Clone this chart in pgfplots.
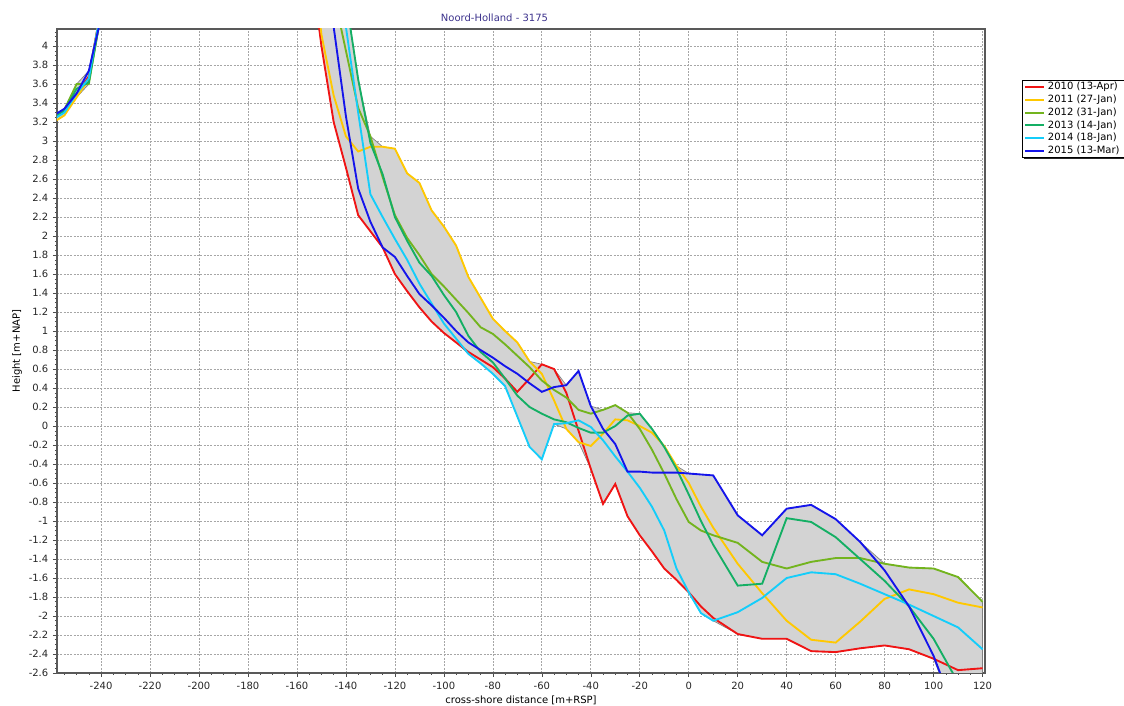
\documentclass[border=0pt]{standalone}
\usepackage{pgfplots}
\pgfplotsset{compat=1.18}
\usepackage{pgfplotstable}
\usepackage{fontspec}
\setmainfont{DejaVu Sans}

\definecolor{c2010}{RGB}{240,20,20}
\definecolor{c2011}{RGB}{255,200,0}
\definecolor{c2012}{RGB}{115,180,30}
\definecolor{c2013}{RGB}{20,175,100}
\definecolor{c2014}{RGB}{20,205,250}
\definecolor{c2015}{RGB}{20,20,235}
\definecolor{envfill}{RGB}{211,211,211}
\definecolor{titleblue}{RGB}{60,50,140}

% profiles per survey year (height in m+NAP)
\pgfplotstableread{
x     r      y      o      g      c      b
-260  3.24   3.19   3.24   3.24   3.22   3.26
-255  3.33   3.27   3.33   3.32   3.30   3.34
-250  3.50   3.46   3.60   3.55   3.50   3.50
-245  3.68   3.65   3.60   3.62   3.66   3.74
-240  4.40   4.40   4.35   4.35   4.40   4.30
-235  6.00   6.00   6.00   6.00   6.00   6.00
-160  6.00   6.00   6.00   6.00   6.00   6.00
-155  5.00   5.30   6.00   6.00   6.00   6.00
-150  4.00   4.12   5.20   5.60   5.40   4.90
-145  3.20   3.48   4.55   5.00   4.80   4.20
-140  2.72   3.05   3.95   4.50   4.20   3.26
-135  2.22   2.89   3.35   3.65   3.30   2.50
-130  2.05   2.94   3.05   2.98   2.44   2.15
-125  1.88   2.94   2.62   2.65   2.20   1.88
-120  1.60   2.92   2.22   2.20   1.97   1.78
-115  1.42   2.66   1.98   1.95   1.75   1.58
-110  1.25   2.56   1.80   1.72   1.50   1.39
-105  1.10   2.27   1.60   1.58   1.29   1.27
-100  0.98   2.10   1.47   1.38   1.08   1.14
-95   0.88   1.90   1.33   1.20   0.92   1.00
-90   0.78   1.57   1.19   0.95   0.76   0.88
-85   0.70   1.35   1.04   0.78   0.66   0.80
-80   0.62   1.13   0.97   0.67   0.55   0.72
-75   0.50   1.00   0.86   0.50   0.42   0.63
-70   0.36   0.88   0.74   0.32   0.10   0.55
-65   0.50   0.68   0.62   0.20  -0.22   0.45
-60   0.65   0.55   0.48   0.13  -0.35   0.36
-55   0.60   0.27   0.38   0.07   0.02   0.41
-50   0.35  -0.03   0.30   0.04   0.03   0.43
-45  -0.05  -0.17   0.17  -0.02   0.06   0.58
-40  -0.45  -0.21   0.13  -0.07  -0.01   0.21
-35  -0.82  -0.08   0.17  -0.07  -0.15  -0.03
-30  -0.61   0.07   0.22   0.00  -0.32  -0.19
-25  -0.95   0.06   0.14   0.11  -0.48  -0.48
-20  -1.15   0.00  -0.03   0.13  -0.65  -0.48
-15  -1.32  -0.07  -0.25  -0.03  -0.85  -0.49
-10  -1.50  -0.21  -0.50  -0.22  -1.10  -0.49
-5   -1.62  -0.42  -0.77  -0.45  -1.50  -0.49
0    -1.75  -0.60  -1.01  -0.72  -1.75  -0.50
5    -1.90  -0.85  -1.10  -1.00  -1.97  -0.51
10   -2.02  -1.07  -1.15  -1.25  -2.05  -0.52
20   -2.19  -1.45  -1.23  -1.68  -1.96  -0.94
30   -2.24  -1.76  -1.43  -1.66  -1.81  -1.15
40   -2.24  -2.05  -1.50  -0.97  -1.60  -0.87
50   -2.37  -2.25  -1.43  -1.01  -1.54  -0.83
60   -2.38  -2.28  -1.39  -1.17  -1.56  -0.98
70   -2.34  -2.06  -1.39  -1.40  -1.66  -1.22
80   -2.31  -1.82  -1.45  -1.63  -1.77  -1.52
90   -2.35  -1.72  -1.49  -1.90  -1.88  -1.90
100  -2.45  -1.77  -1.50  -2.24  -2.00  -2.42
110  -2.57  -1.86  -1.59  -2.70  -2.12  -3.10
120  -2.55  -1.91  -1.85  -3.20  -2.35  -3.80
}\profiles

% envelope of all years: upper edge left to right, then lower edge back
\pgfplotstableread{
x     h
-260  3.26
-255  3.34
-250  3.60
-245  3.74
-240  4.40
-235  6.00
-155  6.00
-150  5.60
-145  5.00
-140  4.50
-135  3.65
-130  3.05
-125  2.94
-120  2.92
-115  2.66
-110  2.56
-105  2.27
-100  2.10
-95   1.90
-90   1.57
-85   1.35
-80   1.13
-75   1.00
-70   0.88
-65   0.68
-60   0.65
-55   0.60
-50   0.43
-45   0.58
-40   0.21
-35   0.17
-30   0.22
-25   0.14
-20   0.13
-15  -0.03
-10  -0.21
-5   -0.42
0    -0.50
5    -0.51
10   -0.52
20   -0.94
30   -1.15
40   -0.87
50   -0.83
60   -0.98
70   -1.22
80   -1.45
90   -1.49
100  -1.50
110  -1.59
120  -1.85
120  -3.80
110  -3.10
100  -2.45
90   -2.35
80   -2.31
70   -2.34
60   -2.38
50   -2.37
40   -2.24
30   -2.24
20   -2.19
10   -2.05
5    -1.97
0    -1.75
-5   -1.62
-10  -1.50
-15  -1.32
-20  -1.15
-25  -0.95
-30  -0.61
-35  -0.82
-40  -0.45
-45  -0.17
-50  -0.03
-55   0.02
-60  -0.35
-65  -0.22
-70   0.10
-75   0.42
-80   0.55
-85   0.66
-90   0.76
-95   0.88
-100  0.98
-105  1.10
-110  1.25
-115  1.42
-120  1.60
-125  1.88
-130  2.05
-135  2.22
-140  2.72
-145  3.20
-150  4.00
-155  5.00
-160  6.00
-235  6.00
-240  4.30
-245  3.60
-250  3.46
-255  3.27
-260  3.19
}\envelope

\begin{document}
\begin{tikzpicture}
\path[use as bounding box] (-42.75pt,-24.75pt) rectangle (800.25pt,504.75pt);
\begin{axis}[
    width=696pt, height=483pt, scale only axis,
    clip mode=individual,
    xmin=-258, xmax=121, ymin=-2.6, ymax=4.18,
    xtick distance=20, ytick distance=0.2,
    minor x tick num=3, minor y tick num=3,
    xtick pos=left, ytick pos=left, tick align=outside,
    major tick length=3pt, minor tick length=1.5pt,
    tick style={black!70, line width=0.4pt},
    axis line style={black!65, line width=1.3pt},
    grid=major,
    major grid style={black!35, line width=0.5pt, dash pattern=on 1.5pt off 1pt},
    /pgf/number format/assume math mode=true,
    ticklabel style={font=\fontsize{7.5}{9}\selectfont, text=black!85},
    title={Noord-Holland - 3175},
    title style={at={(axis description cs:0.4714,1.0186)}, anchor=center,
        yshift=-6.75pt, font=\fontsize{7.5}{9}\selectfont, text=titleblue},
    xlabel={cross-shore distance [m+RSP]},
    xlabel style={at={(axis description cs:0.5,-0.042)}, anchor=center,
        font=\fontsize{7.5}{9}\selectfont},
    ylabel={Height [m+NAP]},
    ylabel style={at={(axis description cs:-0.0431,0.5)}, anchor=center,
        font=\fontsize{7.5}{9}\selectfont},
    legend style={at={(axis description cs:1.0399,0.9208)}, anchor=north west,
        draw=black, line width=0.6pt, fill=white,
        font=\fontsize{7.5}{9}\selectfont,
        inner xsep=1.5pt, inner ysep=0.9pt, row sep=1.4pt,
        nodes={inner ysep=0.5pt}},
    legend cell align=left,
    legend image code/.code={
        \draw[#1, line width=1.4pt] (3pt,0pt) -- (12.75pt,0pt);
        \path (0pt,0pt) -- (14.25pt,0pt);},
    every axis plot/.append style={line width=1.4pt},
]
\addplot[fill=envfill, draw=black!50, line width=0.5pt, forget plot] table[x=x, y=h] {\envelope};

\addplot[c2010] table[x=x, y=r] {\profiles};
\addlegendentry{2010 (13-Apr)}
\addplot[c2011] table[x=x, y=y] {\profiles};
\addlegendentry{2011 (27-Jan)}
\addplot[c2012] table[x=x, y=o] {\profiles};
\addlegendentry{2012 (31-Jan)}
\addplot[c2013] table[x=x, y=g] {\profiles};
\addlegendentry{2013 (14-Jan)}
\addplot[c2014] table[x=x, y=c] {\profiles};
\addlegendentry{2014 (18-Jan)}
\addplot[c2015] table[x=x, y=b] {\profiles};
\addlegendentry{2015 (13-Mar)}

% shadow behind the legend box
\fill[black!85] (axis description cs:1.0420,0.9177) rectangle (axis description cs:1.1509,0.7981);
\end{axis}
\end{tikzpicture}
\end{document}
